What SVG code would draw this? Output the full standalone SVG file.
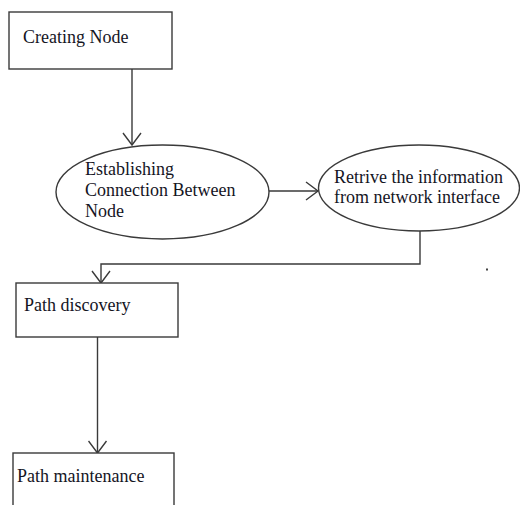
<svg xmlns="http://www.w3.org/2000/svg" width="520" height="505" viewBox="0 0 520 505">
<style>
.shape{fill:#fff;stroke:#3a3a3a;stroke-width:1.4}
.conn{fill:none;stroke:#3a3a3a;stroke-width:1.4}
text{font-family:"Liberation Serif","Times New Roman",serif;font-size:18px;fill:#15151f}
</style>
<defs>
<marker id="arr" viewBox="-14 -10 16 20" markerWidth="16" markerHeight="20" refX="0" refY="0" orient="auto" markerUnits="userSpaceOnUse">
<path d="M -12 -9 L 0 0 L -12 9" fill="none" stroke="#3a3a3a" stroke-width="1.4"/>
</marker>
</defs>
<rect width="520" height="505" fill="#fff"/>
<g id="connectors">
<path class="conn" d="M 132 69 L 132 145" marker-end="url(#arr)"/>
<path class="conn" d="M 269 191 L 318 191" marker-end="url(#arr)"/>
<path class="conn" d="M 420 231 L 420 264 L 101 264 L 101 283" marker-end="url(#arr)"/>
<path class="conn" d="M 97.5 337 L 97.5 453" marker-end="url(#arr)"/>
</g>
<g id="creating-node">
<rect class="shape" x="9" y="12" width="163" height="57"/>
<text x="23" y="43">Creating Node</text>
</g>
<g id="establishing">
<ellipse class="shape" cx="162.5" cy="192" rx="106.5" ry="47"/>
<text x="85" y="175">Establishing</text>
<text x="85" y="196">Connection Between</text>
<text x="85" y="217">Node</text>
</g>
<g id="retrive">
<ellipse class="shape" cx="419" cy="188" rx="100.5" ry="43"/>
<text x="334" y="183">Retrive the information</text>
<text x="334" y="203">from network interface</text>
</g>
<g id="path-discovery">
<rect class="shape" x="16" y="283" width="162" height="54"/>
<text x="24" y="311">Path discovery</text>
</g>
<g id="path-maintenance">
<rect class="shape" x="13" y="453" width="161" height="70"/>
<text x="17" y="482">Path maintenance</text>
</g>
<rect x="486" y="268.5" width="2" height="2" fill="#444"/>
</svg>
